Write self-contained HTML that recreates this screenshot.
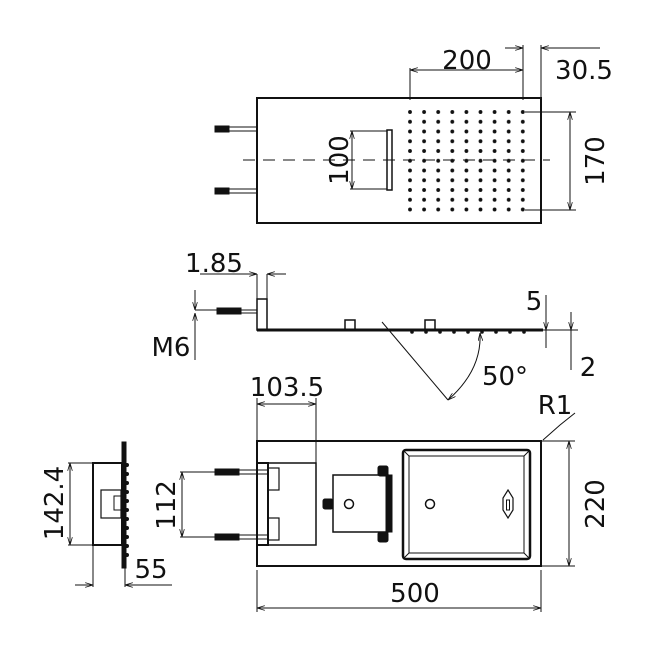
<!DOCTYPE html>
<html><head><meta charset="utf-8"><style>
html,body{margin:0;padding:0;background:#fff}
svg{display:block}
text{font-family:"DejaVu Sans","Liberation Sans",sans-serif;font-size:26px;fill:#111}
</style></head><body>
<svg width="650" height="650" viewBox="0 0 650 650" xmlns="http://www.w3.org/2000/svg">
<defs>
<marker id="a" viewBox="0 0 10 6" refX="10" refY="3" markerWidth="8" markerHeight="5" orient="auto-start-reverse"><path d="M0,0 L10,3 L0,6" fill="none" stroke="#111" stroke-width="1"/></marker>
<pattern id="dots" x="410" y="112" width="14.1" height="9.75" patternUnits="userSpaceOnUse"><circle cx="0.0" cy="0.0" r="1.9" fill="#111"/><circle cx="14.1" cy="0" r="1.9" fill="#111"/><circle cx="0" cy="9.75" r="1.9" fill="#111"/><circle cx="14.1" cy="9.75" r="1.9" fill="#111"/></pattern>
</defs>
<g stroke="#111" fill="none" stroke-width="1">
<!-- TOP VIEW -->
<rect x="257" y="98" width="284" height="125" stroke-width="2"/>
<line x1="243" y1="160" x2="550" y2="160" stroke-dasharray="12,8"/>
<rect x="408" y="110" width="118" height="102" fill="url(#dots)" stroke="none"/>
<rect x="215" y="126" width="14" height="6" fill="#111"/><line x1="229" y1="127" x2="257" y2="127"/><line x1="229" y1="131" x2="257" y2="131"/>
<rect x="215" y="188" width="14" height="6" fill="#111"/><line x1="229" y1="189" x2="257" y2="189"/><line x1="229" y1="193" x2="257" y2="193"/>
<rect x="387" y="130" width="5" height="60" stroke-width="1.5"/>
<line x1="350" y1="131" x2="387" y2="131"/><line x1="350" y1="189" x2="387" y2="189"/>
<line x1="352" y1="131" x2="352" y2="189" marker-start="url(#a)" marker-end="url(#a)"/>
<line x1="410" y1="68" x2="410" y2="100"/><line x1="523" y1="45" x2="523" y2="100"/>
<line x1="410" y1="70" x2="523" y2="70" marker-start="url(#a)" marker-end="url(#a)"/>
<line x1="505" y1="48" x2="523" y2="48" marker-end="url(#a)"/>
<line x1="541" y1="45" x2="541" y2="98"/>
<line x1="600" y1="48" x2="541" y2="48" marker-end="url(#a)"/>
<line x1="525" y1="112" x2="576" y2="112"/><line x1="525" y1="210" x2="576" y2="210"/>
<line x1="570" y1="112" x2="570" y2="210" marker-start="url(#a)" marker-end="url(#a)"/>
<!-- SIDE VIEW -->
<line x1="257" y1="330" x2="543" y2="330" stroke-width="3"/>
<rect x="257" y="299" width="10" height="31" stroke-width="1.5"/>
<rect x="217" y="308" width="24" height="6" fill="#111"/><line x1="195" y1="310" x2="257" y2="310"/><line x1="241" y1="313" x2="257" y2="313"/>
<rect x="345" y="320" width="10" height="10" stroke-width="1.5"/><rect x="425" y="320" width="10" height="10" stroke-width="1.5"/>
<g fill="#111" stroke="none"><circle cx="412" cy="332" r="1.8"/><circle cx="426" cy="332" r="1.8"/><circle cx="440" cy="332" r="1.8"/><circle cx="454" cy="332" r="1.8"/><circle cx="468" cy="332" r="1.8"/><circle cx="482" cy="332" r="1.8"/><circle cx="496" cy="332" r="1.8"/><circle cx="510" cy="332" r="1.8"/><circle cx="524" cy="332" r="1.8"/></g>
<line x1="382" y1="322" x2="448" y2="400"/>
<path d="M448,400 Q482,370 480,333" marker-start="url(#a)" marker-end="url(#a)"/>
<line x1="543" y1="330" x2="578" y2="330"/>
<line x1="546" y1="295" x2="546" y2="330" marker-end="url(#a)"/><line x1="546" y1="330" x2="546" y2="348"/>
<line x1="571" y1="312" x2="571" y2="330" marker-end="url(#a)"/><line x1="571" y1="330" x2="571" y2="370"/>
<line x1="200" y1="274" x2="257" y2="274" marker-end="url(#a)"/><line x1="286" y1="274" x2="267" y2="274" marker-end="url(#a)"/>
<line x1="257" y1="274" x2="257" y2="299"/><line x1="267" y1="274" x2="267" y2="299"/>
<line x1="195" y1="290" x2="195" y2="310" marker-end="url(#a)"/><line x1="195" y1="313" x2="195" y2="360" marker-start="url(#a)"/>
<!-- BOTTOM VIEW -->
<rect x="257" y="441" width="284" height="125" stroke-width="2"/>
<rect x="403" y="450" width="127" height="109" rx="3" stroke-width="2.5"/>
<rect x="409" y="456" width="115" height="97" stroke-width="1"/>
<line x1="403" y1="450" x2="409" y2="456"/><line x1="530" y1="450" x2="524" y2="456"/><line x1="403" y1="559" x2="409" y2="553"/><line x1="530" y1="559" x2="524" y2="553"/>
<circle cx="430" cy="504" r="4.5" stroke-width="1.5"/>
<path d="M508,490 L513,498 L513,510 L508,518 L503,510 L503,498 Z" stroke-width="1.2"/><rect x="506.5" y="500" width="3" height="10"/>
<path d="M257,463 H316 V545 H257" stroke-width="1.5"/>
<line x1="316" y1="398" x2="316" y2="463"/><line x1="257" y1="398" x2="257" y2="441"/>
<line x1="257" y1="404" x2="316" y2="404" marker-start="url(#a)" marker-end="url(#a)"/>
<rect x="257" y="463" width="11" height="82" stroke-width="2"/>
<rect x="268" y="468" width="11" height="22" stroke-width="1.2"/><rect x="268" y="518" width="11" height="22" stroke-width="1.2"/>
<rect x="215" y="469" width="24" height="6" fill="#111"/><line x1="239" y1="470" x2="268" y2="470"/><line x1="239" y1="474" x2="268" y2="474"/>
<rect x="215" y="534" width="24" height="6" fill="#111"/><line x1="239" y1="535" x2="268" y2="535"/><line x1="239" y1="539" x2="268" y2="539"/>
<line x1="180" y1="472" x2="215" y2="472"/><line x1="180" y1="537" x2="215" y2="537"/>
<line x1="182" y1="472" x2="182" y2="537" marker-start="url(#a)" marker-end="url(#a)"/>
<rect x="333" y="475" width="55" height="57" stroke-width="1.5"/>
<rect x="386" y="475" width="6" height="57" fill="#111"/>
<rect x="378" y="466" width="10" height="10" rx="2" fill="#111"/><rect x="378" y="532" width="10" height="10" rx="2" fill="#111"/>
<rect x="323" y="499" width="10" height="10" rx="2" fill="#111"/>
<circle cx="349" cy="504" r="4.5" stroke-width="1.5"/>
<line x1="541" y1="441" x2="575" y2="441"/><line x1="541" y1="566" x2="575" y2="566"/>
<line x1="569" y1="441" x2="569" y2="566" marker-start="url(#a)" marker-end="url(#a)"/>
<line x1="257" y1="570" x2="257" y2="612"/><line x1="541" y1="570" x2="541" y2="612"/>
<line x1="257" y1="608" x2="541" y2="608" marker-start="url(#a)" marker-end="url(#a)"/>
<polyline points="543,440 560,425 575,413"/>
<!-- LEFT SIDE VIEW -->
<rect x="93" y="463" width="29" height="82" stroke-width="2"/>
<rect x="101" y="490" width="20" height="28" stroke-width="1.2"/><rect x="114" y="496" width="7" height="14" stroke-width="1"/>
<rect x="122" y="442" width="4" height="126" fill="#111"/>
<g fill="#111" stroke="none"><circle cx="127" cy="465" r="2"/><circle cx="127" cy="474" r="2"/><circle cx="127" cy="483" r="2"/><circle cx="127" cy="492" r="2"/><circle cx="127" cy="501" r="2"/><circle cx="127" cy="510" r="2"/><circle cx="127" cy="519" r="2"/><circle cx="127" cy="528" r="2"/><circle cx="127" cy="537" r="2"/><circle cx="127" cy="546" r="2"/><circle cx="127" cy="555" r="2"/></g>
<line x1="68" y1="463" x2="93" y2="463"/><line x1="68" y1="545" x2="93" y2="545"/>
<line x1="70" y1="463" x2="70" y2="545" marker-start="url(#a)" marker-end="url(#a)"/>
<line x1="93" y1="545" x2="93" y2="587"/><line x1="125" y1="568" x2="125" y2="587"/>
<line x1="75" y1="585" x2="93" y2="585" marker-end="url(#a)"/><line x1="172" y1="585" x2="125" y2="585" marker-end="url(#a)"/>
</g>
<text x="467" y="69" text-anchor="middle">200</text>
<text x="584" y="79" text-anchor="middle">30.5</text>
<text transform="translate(348,160) rotate(-90)" text-anchor="middle">100</text>
<text transform="translate(604,161) rotate(-90)" text-anchor="middle">170</text>
<text x="214" y="272" text-anchor="middle">1.85</text>
<text x="171" y="356" text-anchor="middle">M6</text>
<text x="534" y="310" text-anchor="middle">5</text>
<text x="588" y="376" text-anchor="middle">2</text>
<text x="505" y="385" text-anchor="middle">50°</text>
<text x="287" y="396" text-anchor="middle">103.5</text>
<text x="555" y="414" text-anchor="middle">R1</text>
<text transform="translate(604,504) rotate(-90)" text-anchor="middle">220</text>
<text x="415" y="602" text-anchor="middle">500</text>
<text transform="translate(175,505) rotate(-90)" text-anchor="middle">112</text>
<text transform="translate(63,503) rotate(-90)" text-anchor="middle">142.4</text>
<text x="151" y="578" text-anchor="middle">55</text>
</svg>
</body></html>
